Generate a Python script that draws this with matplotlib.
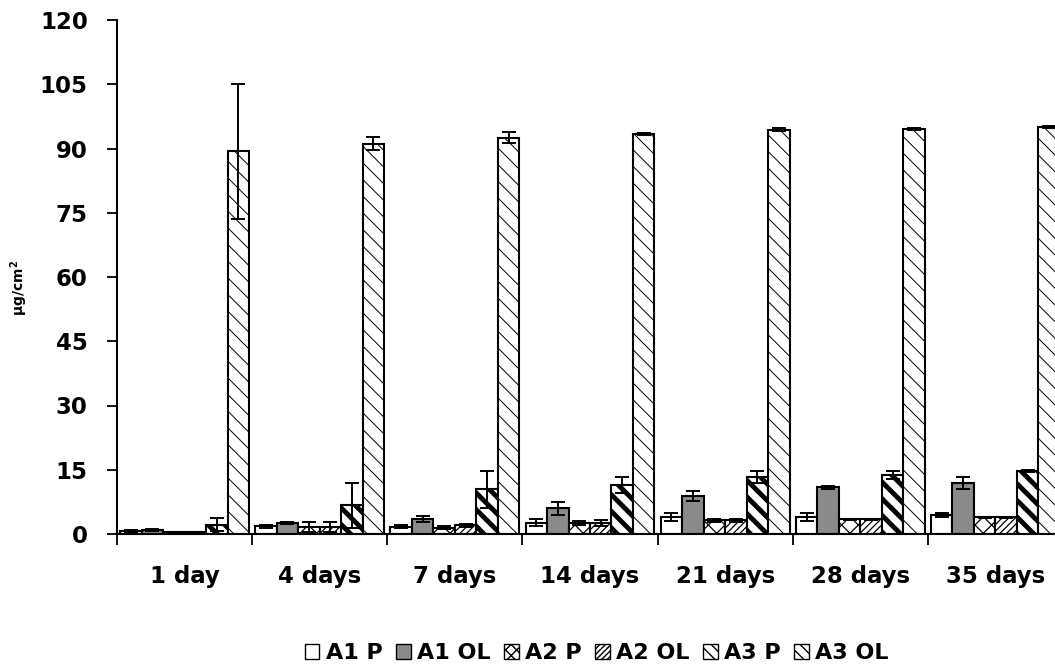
import numpy as np
import matplotlib
matplotlib.use("Agg")
import matplotlib.pyplot as plt
from matplotlib.patches import Patch

plt.rcParams['font.family'] = ['DejaVu Sans']
plt.rcParams['font.weight'] = 'bold'

days = ['1 day', '4 days', '7 days', '14 days', '21 days', '28 days', '35 days']
series = ['A1 P', 'A1 OL', 'A2 P', 'A2 OL', 'A3 P', 'A3 OL']

a1_p = [0.7, 1.8, 1.7, 2.6, 3.9, 3.9, 4.4]
a1_p_err = [0.2, 0.3, 0.3, 0.8, 0.9, 0.9, 0.4]
a1_ol = [0.9, 2.6, 3.5, 6.0, 8.8, 10.9, 11.9]
a1_ol_err = [0.2, 0.3, 0.6, 1.5, 1.2, 0.4, 1.4]
a2_p = [0.4, 1.6, 1.5, 2.6, 3.2, 3.4, 3.9]
a2_p_err = [0.1, 1.2, 0.3, 0.4, 0.3, 0.2, 0.1]
a2_ol = [0.4, 1.6, 2.0, 2.6, 3.2, 3.4, 3.9]
a2_ol_err = [0.1, 1.2, 0.4, 0.7, 0.3, 0.2, 0.1]
a3_p = [2.2, 6.7, 10.4, 11.5, 13.3, 13.8, 14.7]
a3_p_err = [1.5, 5.3, 4.4, 1.9, 1.5, 0.9, 0.3]
a3_ol = [89.3, 91.1, 92.5, 93.4, 94.4, 94.6, 95.1]
a3_ol_err = [15.8, 1.5, 1.3, 0.3, 0.4, 0.2, 0.2]

values = [a1_p, a1_ol, a2_p, a2_ol, a3_p, a3_ol]
errors = [a1_p_err, a1_ol_err, a2_p_err, a2_ol_err, a3_p_err, a3_ol_err]

# fill, bar hatch, hatch colour, hatch width, legend hatch, legend hatch width
styles = [
    ('white', '', 'black', 1.0, '', 1.0),
    ('#8a8a8a', '', 'black', 1.0, '', 1.0),
    ('white', 'xx', 'black', 0.9, 'xxx', 0.8),
    ('white', '/////', 'black', 0.9, '//////', 0.8),
    ('white', '\\\\', 'black', 3.5, '\\\\\\', 4.0),
    ('white', '\\\\', '#3a3a3a', 0.7, '\\\\\\', 0.8),
]

fig = plt.figure(figsize=(10.55, 6.65), dpi=100)
ax = fig.add_axes([117 / 1055, 1 - 534 / 665, 946 / 1055, 514 / 665])

width = 0.159
margin = (1 - 6 * width) / 2
x = np.arange(len(days))

handles = []
for k, (vals, errs, st) in enumerate(zip(values, errors, styles)):
    fc, hatch, hc, hlw, lhatch, lhlw = st
    pos = x + margin + width * (k + 0.5)
    with plt.rc_context({'hatch.linewidth': hlw, 'hatch.color': hc}):
        bars = ax.bar(pos, vals, width, color=fc, edgecolor='black',
                      linewidth=1.5, hatch=hatch, zorder=2)
        if hasattr(bars[0], 'set_hatch_linewidth'):
            for b in bars:
                b.set_hatch_linewidth(hlw)
        ax.errorbar(pos, vals, yerr=errs, fmt='none', ecolor='black',
                    elinewidth=1.4, capsize=5, capthick=1.4, zorder=3)
    with plt.rc_context({'hatch.linewidth': lhlw, 'hatch.color': 'black'}):
        h = Patch(facecolor=fc, edgecolor='black', linewidth=1.0,
                  hatch=lhatch, label=series[k])
        if hasattr(h, 'set_hatch_linewidth'):
            h.set_hatch_linewidth(lhlw)
    handles.append(h)

ax.set_xlim(0, len(days))
ax.set_ylim(0, 120)
ax.set_yticks(np.arange(0, 121, 15))
ax.set_xticks(np.arange(0, len(days) + 1))
ax.set_xticklabels([])
ax.set_xticks(x + 0.5, minor=True)
ax.set_xticklabels(days, minor=True)
ax.tick_params(axis='x', which='major', direction='out', length=8, width=1.3)
ax.tick_params(axis='x', which='minor', length=0, pad=22, labelsize=16.5)
ax.tick_params(axis='y', direction='out', length=7, width=1.3, pad=14,
               labelsize=16.5)

for side in ('top', 'right'):
    ax.spines[side].set_visible(False)
for side in ('left', 'bottom'):
    ax.spines[side].set_linewidth(1.5)

fig.text(0.018, 1 - 288 / 665, 'µg/cm$^2$', rotation=90, ha='center',
         va='center', fontsize=10, fontweight='bold')

fig.legend(handles=handles, loc='center', bbox_to_anchor=(597 / 1055, 1 - 653 / 665),
           ncol=6, frameon=False, fontsize=16, handlelength=0.65,
           handleheight=0.65, handletextpad=0.3, columnspacing=0.6,
           borderpad=0)

fig.savefig('out.png', dpi=100)
